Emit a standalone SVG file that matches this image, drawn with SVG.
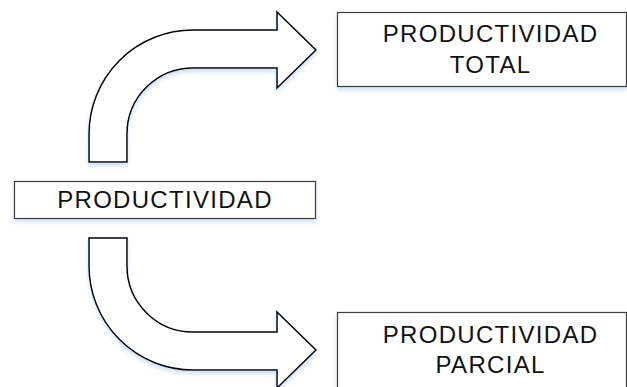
<svg xmlns="http://www.w3.org/2000/svg" width="627" height="387" viewBox="0 0 627 387">
  <defs>
    <filter id="sh" x="-10%" y="-10%" width="130%" height="140%">
      <feDropShadow dx="0" dy="3" stdDeviation="2.2" flood-color="#5b8fd0" flood-opacity="0.28"/>
    </filter>
  </defs>
  <style>
    .box { fill: #ffffff; stroke: #3c3c3c; stroke-width: 1.2; filter: url(#sh); }
    .arrow { fill: #ffffff; stroke: #000000; stroke-width: 1.5; stroke-linejoin: miter; filter: url(#sh); }
    .lbl { font-family: "Liberation Sans", Arial, sans-serif; font-size: 24px; letter-spacing: 1.3px; fill: #111111; text-anchor: middle; }
  </style>
  <rect width="627" height="387" fill="#ffffff"/>
  <g id="connectors">
    <path class="arrow" d="M 89 162 L 89 134 A 104 104 0 0 1 193 30 L 277 30 L 277 12 L 316 50 L 277 88 L 277 68 L 193 68 A 66 66 0 0 0 127 134 L 127 162 Z"/>
    <path class="arrow" d="M 89 238 L 89 266 A 104 104 0 0 0 193 370 L 277 370 L 277 388 L 316 350 L 277 312 L 277 332 L 193 332 A 66 66 0 0 1 127 266 L 127 238 Z"/>
  </g>
  <g id="productividad">
    <rect class="box" x="14.5" y="181.5" width="301" height="37"/>
    <text class="lbl" x="165" y="208">PRODUCTIVIDAD</text>
  </g>
  <g id="productividad-total">
    <rect class="box" x="337.5" y="12.5" width="289" height="74"/>
    <text class="lbl" x="490.6" y="41.7">PRODUCTIVIDAD</text>
    <text class="lbl" x="490.6" y="73.3">TOTAL</text>
  </g>
  <g id="productividad-parcial">
    <rect class="box" x="337.5" y="312.5" width="289" height="80"/>
    <text class="lbl" x="490.6" y="343">PRODUCTIVIDAD</text>
    <text class="lbl" x="490.6" y="373">PARCIAL</text>
  </g>
</svg>
